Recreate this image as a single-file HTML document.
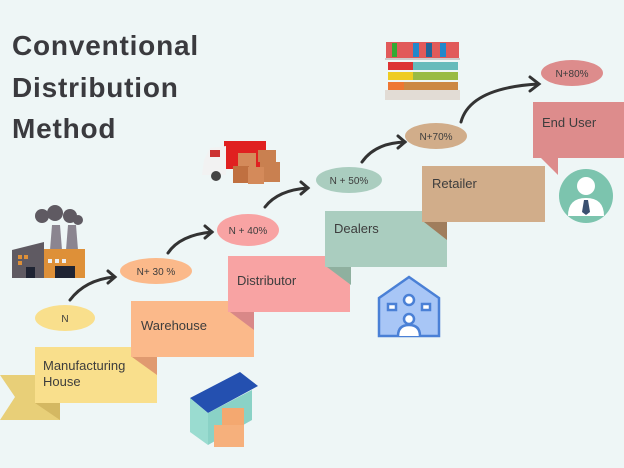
<!DOCTYPE html>
<html><head><meta charset="utf-8"><style>
html,body{margin:0;padding:0;background:#eef6f6;}
svg{display:block}
text{font-family:"Liberation Sans",sans-serif;}
</style></head><body>
<svg width="624" height="468" viewBox="0 0 624 468" xmlns="http://www.w3.org/2000/svg">
<rect width="624" height="468" fill="#eef6f6"/>
<g font-weight="bold" font-size="28" fill="#3a3a3e" letter-spacing="0.8">
<text x="12" y="55">Conventional</text>
<text x="12" y="97">Distribution</text>
<text x="12" y="138">Method</text>
</g>
<!-- ribbon tail -->
<polygon points="0,375 60,375 60,420 0,420 15,397" fill="#e8cf78"/>
<polygon points="35,403 60,403 60,420" fill="#d4b862"/>
<!-- boxes -->
<rect x="35" y="347" width="122" height="56" fill="#f9df8c"/>
<polygon points="132,357 157,357 157,375" fill="#e09a70"/>
<rect x="131" y="301" width="123" height="56" fill="#fbb98a"/>
<polygon points="230,312 254,312 254,330" fill="#d98888"/>
<rect x="228" y="256" width="122" height="56" fill="#f8a3a3"/>
<polygon points="327,267 351,267 351,285" fill="#8fb09f"/>
<rect x="325" y="211" width="122" height="56" fill="#aacdbf"/>
<polygon points="424,222 447,222 447,240" fill="#a07d5c"/>
<rect x="422" y="166" width="123" height="56" fill="#d1ad8a"/>
<polygon points="533,150 558,150 558,175" fill="#dd8c8c"/>
<rect x="533" y="102" width="91" height="56" fill="#dd8c8c"/>
<g font-size="13" fill="#3d3d3d">
<text x="43" y="370">Manufacturing</text>
<text x="43" y="386">House</text>
<text x="141" y="330">Warehouse</text>
<text x="237" y="285">Distributor</text>
<text x="334" y="233">Dealers</text>
<text x="432" y="188">Retailer</text>
<text x="542" y="127">End User</text>
</g>
<!-- ellipses -->
<g font-size="10" fill="#3d3d3d" text-anchor="middle">
<ellipse cx="65" cy="318" rx="30" ry="13" fill="#f9df8c"/><text x="65" y="322">N</text>
<ellipse cx="156" cy="271" rx="36" ry="13" fill="#fbb98a"/><text x="156" y="275">N+ 30 %</text>
<ellipse cx="248" cy="230" rx="31" ry="16" fill="#f8a3a3"/><text x="248" y="234">N + 40%</text>
<ellipse cx="349" cy="180" rx="33" ry="13" fill="#aacdbf"/><text x="349" y="184">N + 50%</text>
<ellipse cx="436" cy="136" rx="31" ry="13" fill="#d1ad8a"/><text x="436" y="140">N+70%</text>
<ellipse cx="572" cy="73" rx="31" ry="13" fill="#dd8c8c"/><text x="572" y="77">N+80%</text>
</g>
<!-- arrows -->
<g fill="none" stroke="#333" stroke-width="3" stroke-linecap="round">
<path d="M70,300 Q85,280 114,277"/><path d="M108,271 L115,277 L108,283"/>
<path d="M168,253 Q180,235 212,232"/><path d="M205,226 L212,232 L205,238"/>
<path d="M265,207 Q278,190 308,188"/><path d="M301,182 L308,188 L301,194"/>
<path d="M362,162 Q375,143 405,142"/><path d="M398,136 L405,142 L398,148"/>
<path d="M461,122 Q470,88 538,84"/><path d="M530,77 L539,84 L530,91"/>
</g>
<!-- factory -->
<g>
<circle cx="42" cy="216" r="7" fill="#5f5a62"/><circle cx="55" cy="213" r="8" fill="#5f5a62"/><circle cx="70" cy="216" r="7" fill="#5f5a62"/><circle cx="78" cy="220" r="5" fill="#5f5a62"/>
<polygon points="52,225 60,225 62,250 50,250" fill="#8b8590"/>
<polygon points="68,225 76,225 78,250 66,250" fill="#8b8590"/>
<polygon points="12,250 44,242 44,278 12,278" fill="#5f5a62"/>
<rect x="44" y="249" width="41" height="29" fill="#de9038"/>
<rect x="26" y="267" width="9" height="11" fill="#1f2433"/>
<rect x="55" y="266" width="20" height="12" fill="#1f2433"/>
<rect x="48" y="259" width="4" height="4" fill="#eee"/><rect x="55" y="259" width="4" height="4" fill="#eee"/><rect x="62" y="259" width="4" height="4" fill="#eee"/>
<rect x="18" y="255" width="4" height="4" fill="#de9038"/><rect x="24" y="255" width="4" height="4" fill="#de9038"/><rect x="18" y="261" width="4" height="4" fill="#de9038"/>
</g>
<!-- truck -->
<g>
<rect x="224" y="141" width="42" height="28" fill="#e02020"/>
<polygon points="204,160 210,148 226,146 226,175 202,175" fill="#f2f2f2"/>
<rect x="210" y="150" width="10" height="7" fill="#c33"/>
<circle cx="216" cy="176" r="5" fill="#444"/>
<rect x="238" y="153" width="18" height="14" fill="#d48a5a"/>
<rect x="258" y="150" width="18" height="12" fill="#c98050"/>
<rect x="260" y="162" width="20" height="20" fill="#c98050"/>
<rect x="233" y="166" width="16" height="17" fill="#c07040"/>
<rect x="248" y="167" width="16" height="17" fill="#d48a5a"/>
</g>
<!-- shelves -->
<g>
<rect x="386" y="42" width="73" height="16" fill="#d33" opacity="0.8"/>
<rect x="392" y="43" width="5" height="14" fill="#3a3"/><rect x="413" y="43" width="6" height="14" fill="#28c"/><rect x="426" y="43" width="6" height="14" fill="#269"/><rect x="440" y="43" width="6" height="14" fill="#28c"/>
<rect x="385" y="58" width="75" height="2" fill="#ccc"/>
<rect x="388" y="62" width="70" height="8" fill="#6bb"/><rect x="388" y="62" width="25" height="8" fill="#d33"/>
<rect x="388" y="72" width="70" height="8" fill="#9b4"/><rect x="388" y="72" width="25" height="8" fill="#ec2"/>
<rect x="388" y="82" width="70" height="8" fill="#c84"/><rect x="388" y="82" width="16" height="8" fill="#e73"/>
<rect x="385" y="90" width="75" height="10" fill="#e2dcd5"/>
</g>
<!-- person circle -->
<circle cx="586" cy="196" r="27" fill="#7cc4ae"/>
<circle cx="586" cy="186" r="9" fill="#fff"/>
<path d="M568,216 Q568,198 586,198 Q604,198 604,216 Z" fill="#fff"/>
<polygon points="584,200 588,200 590,212 586,215 582,212" fill="#3a5070"/>
<!-- house icon -->
<g fill="none" stroke="#4a80d6" stroke-width="2.5">
<path d="M379,298 L409,277 L439,298 L439,336 L379,336 Z" fill="#a8c6f6"/>
<circle cx="409" cy="300" r="5" fill="#fff"/>
<rect x="388" y="304" width="8" height="6" fill="#fff"/><rect x="422" y="304" width="8" height="6" fill="#fff"/>
<circle cx="409" cy="319" r="5" fill="#fff"/>
<path d="M398,336 Q398,325 409,325 Q420,325 420,336" fill="#fff"/>
</g>
<!-- warehouse -->
<g>
<polygon points="190,398 240,372 258,386 208,413" fill="#2450b0"/>
<polygon points="190,398 208,413 208,445 190,432" fill="#9adcd0"/>
<polygon points="208,413 252,390 252,420 208,445" fill="#8ad2c6"/>
<rect x="222" y="408" width="22" height="20" fill="#f4a870"/>
<rect x="214" y="425" width="30" height="22" fill="#f6b07c"/>
</g>
</svg>
</body></html>
